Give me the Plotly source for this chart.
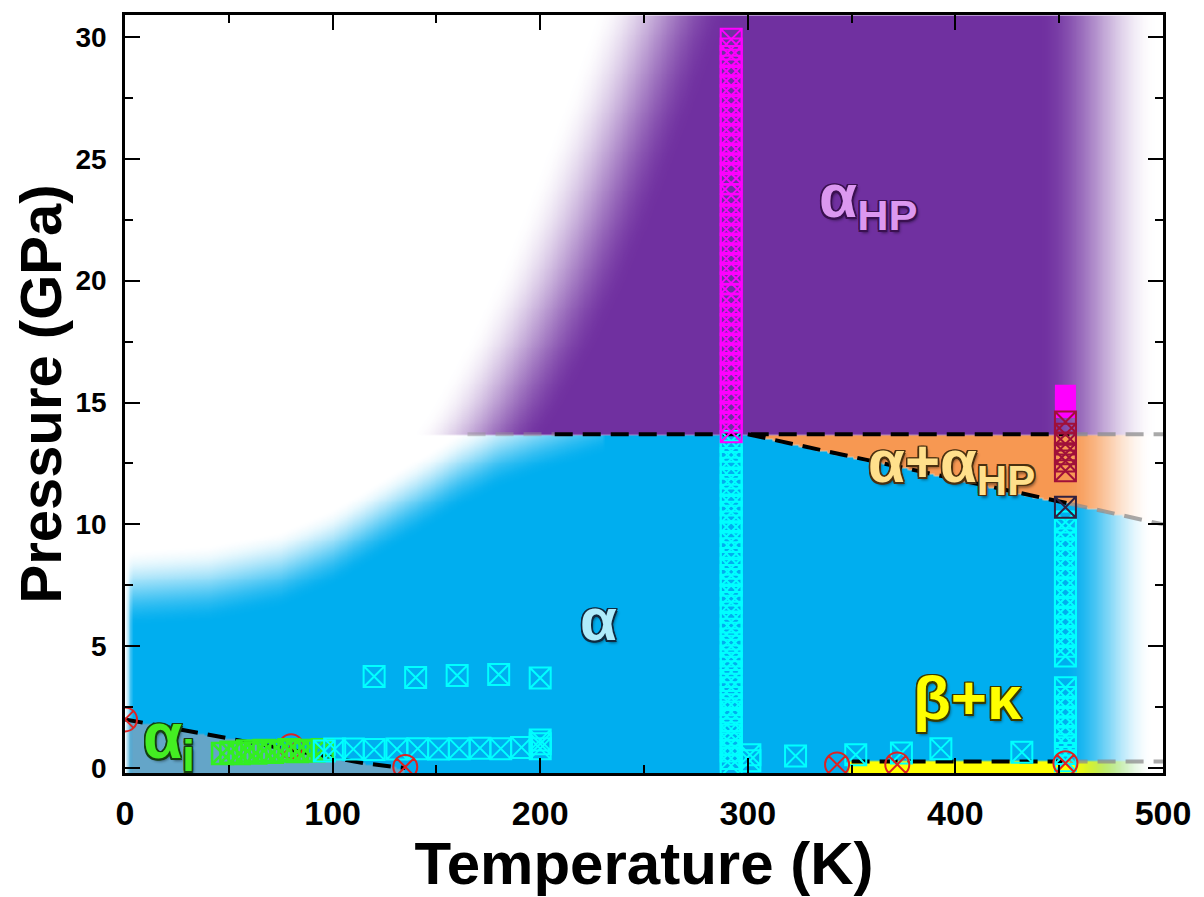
import numpy as np
import plotly.graph_objects as go

# ---------------- axes ----------------
T_RANGE = [0, 500]
P_RANGE = [-0.2, 30.9]
x_ticks = [0, 100, 200, 300, 400, 500]
y_ticks = [0, 5, 10, 15, 20, 25, 30]

# ---------------- phase boundaries (dashed lines) ----------------
ai_line_T = [0, 36, 60, 115, 135]
ai_line_P = [2.0, 1.43, 1.06, 0.2, 0.0]
hp_line_T_gray_left = [165, 207]
hp_line_T_black = [207, 455]
hp_line_T_gray_right = [455, 500]
hp_line_P = 13.7
mix_line_T = [300, 455]
mix_line_P = [13.7, 10.85]
mix_line_T_gray = [455, 500]
mix_line_P_gray = [10.85, 10.0]
bk_line_T_black = [350, 455]
bk_line_T_gray = [455, 500]
bk_line_P = 0.27

# edges of the explored (coloured) area
alpha_edge_T = [0, 40, 75, 100, 123, 145, 160, 180, 200, 230]
alpha_edge_P = [7.4, 7.6, 8.2, 9.1, 10.3, 11.4, 12.2, 13.1, 13.7, 14.5]
hp_edge_P = [13.7, 15, 17.5, 20, 22.5, 25, 27.5, 30.9]
hp_edge_T = [170, 180, 196, 210, 222, 233, 244, 258]

# ---------------- data points ----------------
cyan_row_hi_T = [120, 140, 160, 180, 200]
cyan_row_hi_P = [3.76, 3.72, 3.8, 3.84, 3.7]
cyan_row_lo_T = [96, 101, 110, 120, 131, 141, 151, 161, 171, 181, 191, 200, 200, 200]
cyan_row_lo_P = [0.7, 0.78, 0.78, 0.76, 0.78, 0.8, 0.78, 0.8, 0.82, 0.8, 0.85, 0.8, 1.0, 1.15]
cyan_col1_T = 292
cyan_col1_P = [0.1, 0.4, 0.7, 1.0, 1.35, 1.6, 1.95, 2.3, 2.6, 2.9, 3.3, 3.6, 3.95, 4.3, 4.6,
               5.0, 5.3, 5.7, 6.0, 6.4, 6.8, 7.1, 7.5, 7.9, 8.2, 8.6, 9.0, 9.3, 9.7, 10.1,
               10.5, 10.8, 11.2, 11.6, 11.9, 12.3, 12.7, 13.0, 13.4]
cyan_low_T = [301, 301, 323, 352, 374, 393, 432]
cyan_low_P = [0.3, 0.55, 0.5, 0.55, 0.62, 0.8, 0.65]
cyan_col2_T = 453
cyan_col2_P = [0.3, 0.6, 0.95, 1.3, 1.7, 2.1, 2.5, 2.9, 3.3, 4.6, 5.0, 5.4, 5.8, 6.2,
               6.6, 7.0, 7.4, 7.8, 8.2, 8.6, 9.0, 9.4, 9.8, 10.1]
mag_col1_T = 292
mag_col1_P = [13.8, 14.2, 14.6, 15.0, 15.4, 15.8, 16.2, 16.6, 17.0, 17.4, 17.8, 18.2,
              18.6, 19.0, 19.4, 19.9, 20.3, 20.7, 21.1, 21.5, 21.9, 22.3, 22.7, 23.1,
              23.5, 24.0, 24.4, 24.8, 25.2, 25.6, 26.0, 26.4, 26.8, 27.2, 27.6, 28.0,
              28.4, 28.8, 29.2, 29.5, 29.9]
mag_col2_T = 453
mag_col2_P = [14.8, 15.05, 15.3]
mix_T = [453, 453, 453, 453, 453, 453, 453]
mix_P = [10.7, 12.2, 12.6, 12.9, 13.3, 13.7, 14.2]
green_T = [47, 51, 55, 59, 63, 67, 71, 75, 79, 83, 87, 91, 95]
green_P = [0.6, 0.65, 0.6, 0.7, 0.62, 0.72, 0.65, 0.7, 0.75, 0.68, 0.72, 0.7, 0.75]
red_back_T = [80]
red_back_P = [0.9]
red_T = [0, 135, 343, 372, 453]
red_P = [2.0, 0.05, 0.15, 0.15, 0.2]

# ---------------- phase colours ----------------
COL_ALPHA = (0, 174, 239)
COL_HP = (112, 48, 160)
COL_MIX = (247, 152, 82)
COL_BK = (255, 255, 0)
COL_AI = (100, 165, 200)

# ---------------- background shading fields ----------------
Tg = np.arange(0, 500.01, 1.25)
Pg = np.arange(-0.2, 30.91, 0.08)
TT, PP = np.meshgrid(Tg, Pg)


def smooth(e0, e1, x):
    t = np.clip((x - e0) / (e1 - e0), 0, 1)
    return t * t * (3 - 2 * t)


a_edge = np.interp(TT, alpha_edge_T, alpha_edge_P, right=99)
alpha_fade = 1 - smooth(a_edge - 1.6, a_edge + 1.6, PP)
h_edge = np.interp(PP, hp_edge_P, hp_edge_T)
hp_fade = smooth(h_edge - 32, h_edge + 32, TT)
right = 1 - smooth(452, 495, TT)
right_hp = 1 - smooth(440, 497, TT)
left = smooth(-0.5, 4.0, TT)

upper = np.interp(TT, [0, 300, 500], [hp_line_P, hp_line_P, 10.0])
ai_upper = np.interp(TT, ai_line_T, ai_line_P)

z_alpha = (PP <= upper) * alpha_fade * right * left
z_ai = ((TT < 135) & (PP <= ai_upper)) * left
z_mix = ((TT > 300) & (PP > upper) & (PP < hp_line_P)) * right
z_hp = (PP >= hp_line_P) * hp_fade * right_hp
z_bk = ((TT >= 348) & (PP <= 0.33)) * right


def rgba(c, a):
    return f"rgba({c[0]},{c[1]},{c[2]},{a})"


fig = go.Figure()
for z, c in [(z_alpha, COL_ALPHA), (z_ai, COL_AI), (z_mix, COL_MIX), (z_hp, COL_HP), (z_bk, COL_BK)]:
    fig.add_trace(go.Heatmap(
        x=Tg, y=Pg, z=z.astype(np.float32), zmin=0, zmax=1, zsmooth="best",
        colorscale=[[0, rgba(c, 0)], [1, rgba(c, 1)]], showscale=False, hoverinfo="skip"))

# ---------------- dashed lines ----------------
DASH = "18px,10px"


def dline(x, y, color):
    fig.add_trace(go.Scatter(x=x, y=y, mode="lines", hoverinfo="skip",
                             line=dict(color=color, width=4, dash=DASH)))


GRAY = "rgba(140,140,140,0.75)"
LGRAY = "rgba(150,150,150,0.45)"
dline(ai_line_T, ai_line_P, "black")
dline(hp_line_T_gray_left, [hp_line_P] * 2, LGRAY)
dline(hp_line_T_black, [hp_line_P] * 2, "black")
dline(hp_line_T_gray_right, [hp_line_P] * 2, GRAY)
dline(mix_line_T, mix_line_P, "black")
dline(mix_line_T_gray, mix_line_P_gray, GRAY)
dline(bk_line_T_black, [bk_line_P] * 2, "black")
dline(bk_line_T_gray, [bk_line_P] * 2, GRAY)


# ---------------- markers ----------------
def pts(x, y, color, symbol="square-x-open", size=21, lw=2):
    fig.add_trace(go.Scatter(x=x, y=y, mode="markers", hoverinfo="skip",
                             marker=dict(symbol=symbol, size=size, color=color,
                                         line=dict(color=color, width=lw))))


CYAN = "#00ffff"
MAG = "#ff00ff"
RED = "#dd2222"
pts(red_back_T, red_back_P, RED, "circle-x-open", 24, 2)
pts(green_T, green_P, "#33ee22", lw=2.5)
pts(cyan_row_hi_T, cyan_row_hi_P, CYAN)
pts(cyan_row_lo_T, cyan_row_lo_P, CYAN)
pts(cyan_low_T, cyan_low_P, CYAN)
pts([cyan_col1_T] * len(cyan_col1_P), cyan_col1_P, CYAN)
pts([cyan_col2_T] * len(cyan_col2_P), cyan_col2_P, CYAN)
pts([mag_col1_T] * len(mag_col1_P), mag_col1_P, MAG)
pts([mag_col2_T] * len(mag_col2_P), mag_col2_P, MAG, "square", 21, 0)
pts(mix_T[1:], mix_P[1:], "#a0103a")
pts(mix_T[:1], mix_P[:1], "#302040")
pts(red_T, red_P, RED, "circle-x-open", 24, 2)


# ---------------- phase labels ----------------
def outline(c, w=1.5):
    s = []
    for dx, dy in [(-w, -w), (w, -w), (-w, w), (w, w), (0, w), (w, 0), (-w, 0), (0, -w)]:
        s.append(f"{dx}px {dy}px 0 {c}")
    s.append("2px 3px 3px rgba(0,0,0,0.45)")
    return ", ".join(s)


LABEL_FONT = "Liberation Sans, Arial, sans-serif"
labels = [
    ("α<sub>HP</sub>", 358, 23.3, "#dc98f0", "#3a1050", 62),
    ("α+α<sub>HP</sub>", 398, 12.4, "#ffe08c", "#4a3010", 60),
    ("α", 228, 6.1, "#b0ecfb", "#102a40", 60),
    ("α<sub>i</sub>", 21, 1.15, "#44ee22", "#154010", 64),
    ("β+κ", 406, 2.9, "#ffff00", "#3a3a00", 62),
]
for text, x, y, fc, oc, sz in labels:
    fig.add_annotation(x=x, y=y, text=text, showarrow=False, xanchor="center", yanchor="middle",
                       font=dict(family=LABEL_FONT, size=sz, color=fc, weight="bold",
                                 shadow=outline(oc)))

AX_FONT = "Liberation Sans, Arial, sans-serif"
fig.update_layout(
    width=1196, height=889,
    margin=dict(l=117, r=41, t=4, b=124),
    plot_bgcolor="white", paper_bgcolor="white",
    showlegend=False,
    xaxis=dict(
        range=T_RANGE, tickvals=x_ticks, ticks="inside", ticklen=15, tickwidth=2, tickcolor="black",
        showline=True, linewidth=2.5, linecolor="black", mirror="ticks",
        showgrid=False, zeroline=False, ticklabelstandoff=8,
        minor=dict(ticks="inside", ticklen=8, tickwidth=2, tickcolor="black", dtick=50, showgrid=False),
        tickfont=dict(family=AX_FONT, size=34, color="black", weight="bold"),
        title=dict(text="Temperature (K)", standoff=4,
                   font=dict(family=AX_FONT, size=60, color="black", weight="bold")),
    ),
    yaxis=dict(
        range=P_RANGE, tickvals=y_ticks, ticks="inside", ticklen=15, tickwidth=2, tickcolor="black",
        showline=True, linewidth=2.5, linecolor="black", mirror="ticks",
        showgrid=False, zeroline=False, ticklabelstandoff=10,
        minor=dict(ticks="inside", ticklen=8, tickwidth=2, tickcolor="black", dtick=2.5, showgrid=False),
        tickfont=dict(family=AX_FONT, size=28, color="black", weight="bold"),
        title=dict(text="Pressure (GPa)", standoff=12,
                   font=dict(family=AX_FONT, size=58, color="black", weight="bold")),
    ),
)

fig.write_html("out.html")
